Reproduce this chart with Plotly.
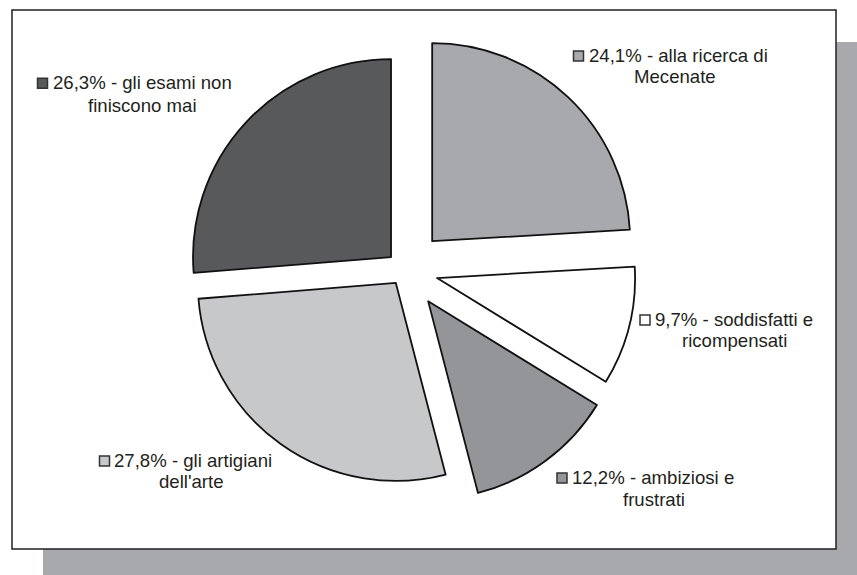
import plotly.graph_objects as go

# ---- data ----
values = [24.1, 9.7, 12.2, 27.8, 26.3]
line1_names = ["alla ricerca di", "soddisfatti e", "ambiziosi e", "gli artigiani", "gli esami non"]
line2_names = ["Mecenate", "ricompensati", "frustrati", "dell'arte", "finiscono mai"]
colors = ["#a7a9ac", "#ffffff", "#939598", "#c7c8ca", "#58595b"]
pulls = [0.2, 0.167, 0.197, 0.08, 0.096]

W, H = 857, 575
def px(x):
    return x / W
def py(y):
    return 1 - y / H

# label layout (pixel positions: line centres x, baselines y, square left x)
lab_l1_x = [678.5, 733.5, 652.5, 192.7, 142.0]
lab_l1_base = [62, 326, 484, 467, 89.3]
lab_l2_x = [674.5, 734.0, 653.5, 191.5, 142.5]
lab_l2_base = [83.3, 347, 506, 488, 111.5]
sq_x = [573.5, 640, 557, 99.5, 37.5]

FONT = "Liberation Sans, Arial, sans-serif"
FS = 18.6
TXT = "#231f20"

fig = go.Figure()

# pie geometry: centre (405,270), radius ~198, max pull 0.2
cx, cy, R = 405, 270, 198
half = R * (1 + max(pulls))
fig.add_trace(go.Pie(
    values=values,
    labels=[f"{a} {b}" for a, b in zip(line1_names, line2_names)],
    sort=False,
    direction="clockwise",
    rotation=0,
    pull=pulls,
    marker=dict(colors=colors, line=dict(color="#111111", width=1.8)),
    textinfo="none",
    hoverinfo="label+percent",
    showlegend=False,
    domain=dict(x=[px(cx - half), px(cx + half)], y=[py(cy + half), py(cy - half)]),
))

shapes = [
    # shadow
    dict(type="rect", xref="paper", yref="paper", x0=px(43), x1=px(870), y0=py(590), y1=py(42),
         fillcolor="#a7a9ac", line=dict(width=0), layer="below"),
    # white frame
    dict(type="rect", xref="paper", yref="paper", x0=px(12), x1=px(836), y0=py(549), y1=py(10),
         fillcolor="#ffffff", line=dict(color="#231f20", width=1.5), layer="below"),
]

annotations = []
for i, v in enumerate(values):
    pct = f"{v:.1f}".replace(".", ",") + "%"
    annotations.append(dict(
        x=px(lab_l1_x[i]), y=py(lab_l1_base[i] - 6.4), xref="paper", yref="paper",
        text=f"{pct} - {line1_names[i]}", showarrow=False, xanchor="center", yanchor="middle",
        font=dict(family=FONT, size=FS, color=TXT)))
    annotations.append(dict(
        x=px(lab_l2_x[i]), y=py(lab_l2_base[i] - 6.4), xref="paper", yref="paper",
        text=line2_names[i], showarrow=False, xanchor="center", yanchor="middle",
        font=dict(family=FONT, size=FS, color=TXT)))
    b = lab_l1_base[i] - 1
    shapes.append(dict(type="rect", xref="paper", yref="paper",
                       x0=px(sq_x[i]), x1=px(sq_x[i] + 10), y0=py(b), y1=py(b - 10),
                       fillcolor=colors[i], line=dict(color="#333333", width=1.5), layer="above"))

fig.update_layout(
    width=W, height=H,
    margin=dict(l=0, r=0, t=0, b=0),
    paper_bgcolor="#ffffff",
    plot_bgcolor="#ffffff",
    shapes=shapes,
    annotations=annotations,
)

fig.write_html("out.html")
